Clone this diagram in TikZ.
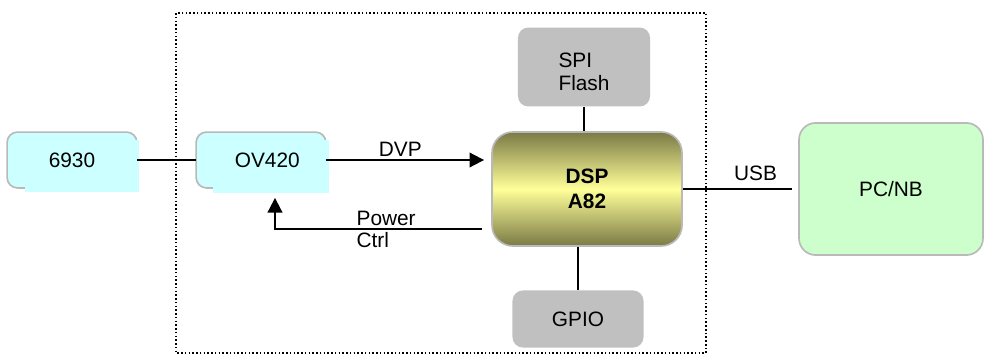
\documentclass[tikz,border=0pt]{standalone}
\usepackage{fontspec}
\setmainfont{Liberation Sans}
\usetikzlibrary{arrows.meta,backgrounds}

\definecolor{camcyan}{RGB}{204,255,255}
\definecolor{pcgreen}{RGB}{204,255,204}
\definecolor{chipgray}{RGB}{192,192,192}
\definecolor{dspolive}{RGB}{122,122,70}
\definecolor{dspyellow}{RGB}{255,255,153}
\definecolor{edgegray}{RGB}{185,185,185}

\tikzset{
  sensor/.style={minimum width=61.9pt, minimum height=26.4pt, inner sep=0pt},
  sensoredge/.style={draw=edgegray, line width=0.8pt, fill=camcyan, rounded corners=5pt},
  sensorfill/.style={fill=camcyan},
  dspbox/.style={draw=edgegray, line width=0.8pt, rounded corners=10pt,
    top color=dspolive, bottom color=dspolive, middle color=dspyellow,
    minimum width=91.2pt, minimum height=54.7pt, font=\bfseries, align=center},
  chip/.style={fill=chipgray, rounded corners=5pt, inner sep=0pt},
  host/.style={draw=edgegray, line width=0.8pt, fill=pcgreen, rounded corners=8pt,
    minimum width=88.3pt, minimum height=63.4pt},
  wire/.style={line width=0.9pt},
  sig/.style={wire, -{Triangle[length=7pt,width=7pt]}},
}

\begin{document}
\begin{tikzpicture}[x=0.48pt, y=-0.48pt]
    \useasboundingbox (0,0) rectangle (985,356);

    % Camera module frame
    \draw[densely dotted, line width=0.8pt] (176,13) rectangle (706,353);

    % Sensors
    \node[sensor] (cam) at (72,160) {6930};
    \node[sensor] (ov) at (261,160) {\hspace{6pt}OV420};
    \begin{scope}[on background layer]
        \draw[sensoredge] (cam.north west) rectangle (cam.south east);
        \fill[sensorfill] ([shift={(18,8)}]cam.north west) rectangle ([shift={(2,4)}]cam.south east);
        \draw[sensoredge] (ov.north west) rectangle (ov.south east);
        \fill[sensorfill] ([shift={(17,8)}]ov.north west) rectangle ([shift={(3,5)}]ov.south east);
    \end{scope}

    % DSP and peripherals
    \node[dspbox] (dsp) at (587,189) {DSP\\A82};
    \node[chip, minimum width=63.4pt, minimum height=37.9pt] (spi) at (584,67)
        {\begin{tabular}{@{}l@{}}\rule{0pt}{15pt}SPI\\[-1pt]Flash\end{tabular}};
    \node[chip, minimum width=62.9pt, minimum height=27.4pt] (gpio) at (578,319) {GPIO};

    % Host
    \node[host] (pc) at (891,189) {PC/NB};

    % Links
    \draw[wire] (cam.east) -- (ov.west);
    \draw[sig, shorten >=3.4pt] (ov.east) -- (ov.east -| dsp.west)
        node[pos=0.45, above, inner sep=1pt] {DVP};
    \draw[sig] ([shift={(-9,40)}]dsp.west) -| ([shift={(14,10)}]ov.south)
        node[pos=0.322, anchor=west, align=left] {Power\\[-1.5pt]Ctrl};
    \draw[wire] (spi.south) -- (spi.south |- dsp.north);
    \draw[wire] (gpio.north) -- (gpio.north |- dsp.south);
    \draw[wire, shorten >=3pt] (dsp.east) -- (pc.west)
        node[pos=0.63, above] {USB};

\end{tikzpicture}
\end{document}
